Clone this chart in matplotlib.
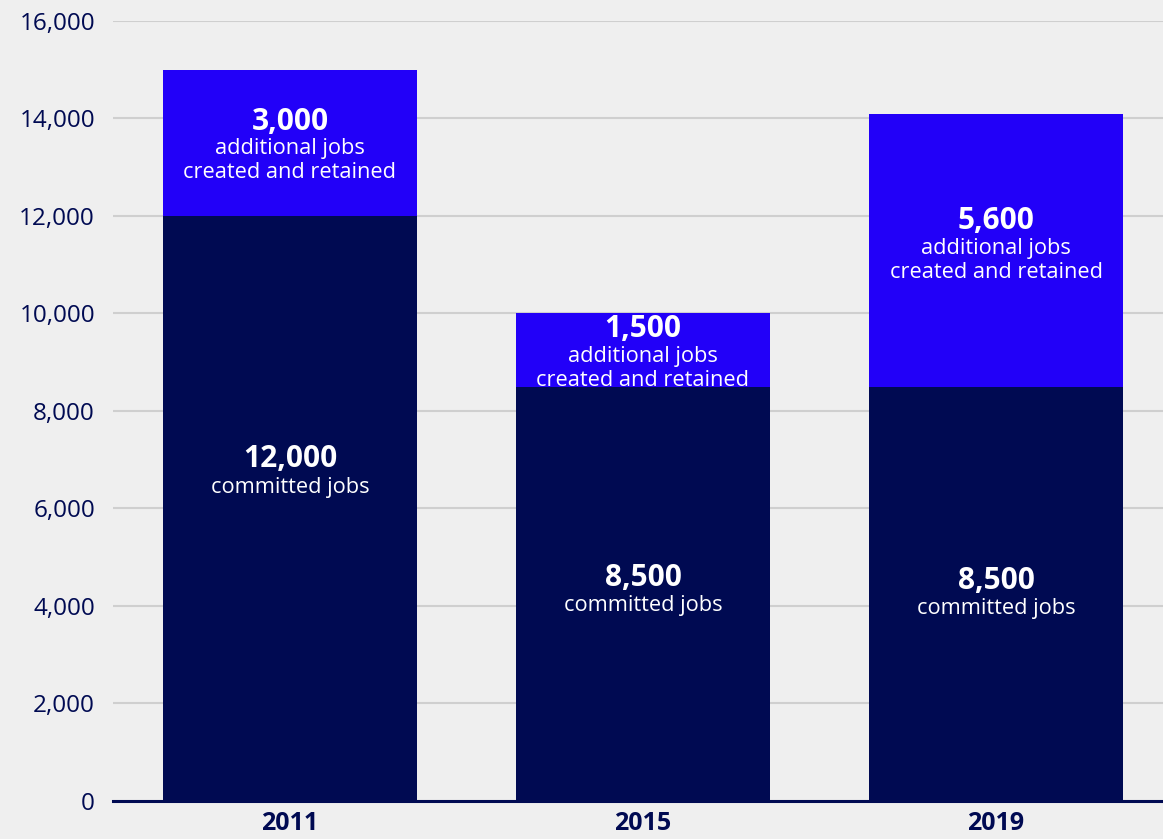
import matplotlib
matplotlib.use("Agg")
import matplotlib.pyplot as plt
from matplotlib.ticker import FuncFormatter

years = ["2011", "2015", "2019"]
committed = [12000, 8500, 8500]
additional = [3000, 1500, 5600]
committed_labels = ["12,000", "8,500", "8,500"]
additional_labels = ["3,000", "1,500", "5,600"]
yticks = [0, 2000, 4000, 6000, 8000, 10000, 12000, 14000, 16000]

# label anchor positions (data units)
committed_label_y = [6770, 4330, 4270]
additional_label_y = [13500, 9250, 11465]

NAVY = "#000a52"
BLUE = "#2200f8"
BG = "#efefef"
GRID = "#cfcfcf"

plt.rcParams["font.family"] = ["Open Sans", "DejaVu Sans"]

fig = plt.figure(figsize=(11.63, 8.39), dpi=100, facecolor=BG)
ax = fig.add_axes([0.0972, 0.0453, 0.9028, 0.9297])
ax.set_facecolor(BG)

x = list(range(len(years)))
w = 0.72
ax.bar(x, committed, width=w, color=NAVY, zorder=3)
ax.bar(x, additional, width=w, bottom=committed, color=BLUE, zorder=3)

NUM_FS = 21.5
TXT_FS = 15.7
for i in x:
    y0 = committed_label_y[i]
    ax.text(i, y0 + 250, committed_labels[i], ha="center", va="center",
            color="white", fontsize=NUM_FS, fontweight="bold", zorder=4)
    ax.text(i, y0 - 330, "committed jobs", ha="center", va="center",
            color="white", fontsize=TXT_FS, zorder=4)
    mid = additional_label_y[i]
    ax.text(i, mid + 430, additional_labels[i], ha="center", va="center",
            color="white", fontsize=NUM_FS, fontweight="bold", zorder=4)
    ax.text(i, mid - 125, "additional jobs", ha="center", va="center",
            color="white", fontsize=TXT_FS, zorder=4)
    ax.text(i, mid - 615, "created and retained", ha="center", va="center",
            color="white", fontsize=TXT_FS, zorder=4)

ax.set_xlim(-0.501, 2.473)
ax.set_ylim(0, 16000)
ax.set_yticks(yticks)
ax.yaxis.set_major_formatter(FuncFormatter(lambda v, p: f"{int(v):,}"))
ax.set_xticks(x)
ax.set_xticklabels(years, fontweight="bold")
ax.tick_params(axis="y", length=0, pad=13, labelsize=17.5, labelcolor=NAVY)
ax.tick_params(axis="x", length=0, pad=7, labelsize=18, labelcolor=NAVY)

ax.grid(axis="y", color=GRID, linewidth=1.5, zorder=0)
ax.set_axisbelow(True)
for s in ["top", "right", "left"]:
    ax.spines[s].set_visible(False)
ax.spines["bottom"].set_color(NAVY)
ax.spines["bottom"].set_linewidth(2.2)
ax.spines["bottom"].set_zorder(5)

fig.savefig("out.png", dpi=100, facecolor=BG)
